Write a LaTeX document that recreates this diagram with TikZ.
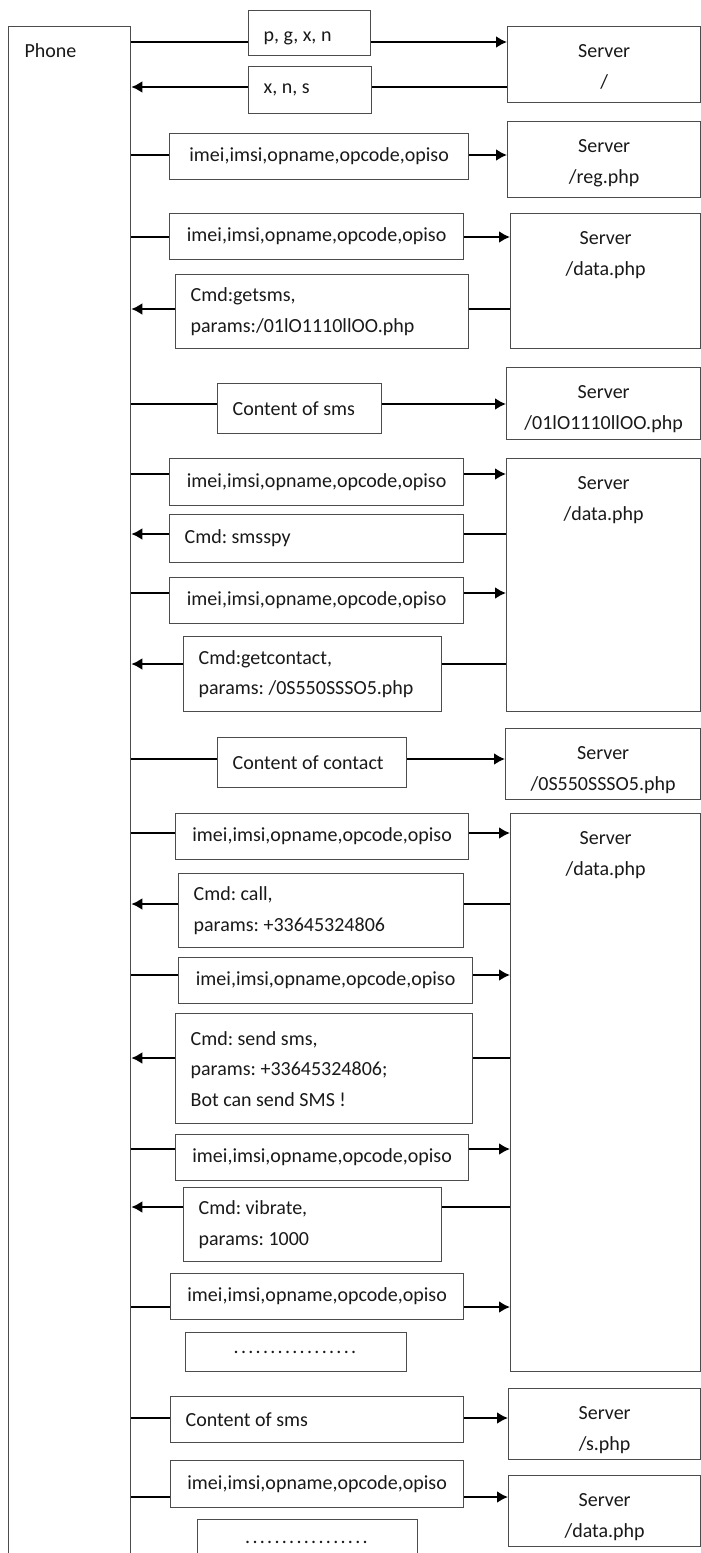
\documentclass[tikz,border=0pt]{standalone}
\usepackage{fontspec}
\setmainfont{Carlito}
\usetikzlibrary{arrows.meta}

\newcommand{\ids}{imei,imsi,opname,opcode,opiso}
\newcommand{\dotrow}{\foreach \d in {1,...,17}{.\kern2.3pt}}

\begin{document}
\begin{tikzpicture}[x=1pt, y=-1pt,
	txt/.style={font=\fontsize{20}{30.5}\selectfont\frenchspacing, text=black!90},
	msg/.style={txt, shape=rectangle, draw=black!70, line width=1.3pt, anchor=north west, align=flush left, inner xsep=15pt, inner ysep=0pt},
	srv/.style={shape=rectangle, draw=black!70, line width=1.3pt, anchor=north west, inner sep=0pt},
	srvlbl/.style={txt, anchor=north, align=center, yshift=-15pt},
	wire/.style={line width=2.6pt},
	arr/.style={-{Latex[length=11pt, width=12pt]}}]
	\useasboundingbox (0,0) rectangle (701,1553);
	% Phone and servers:
	\node[srv, minimum width=122pt, minimum height=1580pt, label={[txt, anchor=north west, xshift=13pt, yshift=-14pt]north west:Phone}] (phone) at (8,26) {};
	\node[srv, minimum width=193pt, minimum height=76pt, label={[srvlbl]north:Server\\/}] (s0) at (507,26) {};
	\node[srv, minimum width=193pt, minimum height=76pt, label={[srvlbl]north:Server\\/reg.php}] (sReg) at (507,121) {};
	\node[srv, minimum width=190pt, minimum height=135pt, label={[srvlbl]north:Server\\/data.php}] (sData1) at (510,213) {};
	\node[srv, minimum width=194pt, minimum height=72pt, label={[srvlbl]north:Server\\/01lO1110llOO.php}] (sGet) at (506,367) {};
	\node[srv, minimum width=194pt, minimum height=253pt, label={[srvlbl]north:Server\\/data.php}] (sData2) at (506,458) {};
	\node[srv, minimum width=195pt, minimum height=71pt, label={[srvlbl]north:Server\\/0S550SSSO5.php}] (sCont) at (505,728) {};
	\node[srv, minimum width=190pt, minimum height=558pt, label={[srvlbl]north:Server\\/data.php}] (sData3) at (510,813) {};
	\node[srv, minimum width=192pt, minimum height=71pt, label={[srvlbl]north:Server\\/s.php}] (sS) at (508,1388) {};
	\node[srv, minimum width=192pt, minimum height=71pt, label={[srvlbl]north:Server\\/data.php}] (sData4) at (508,1475) {};

	% Messages:
	\node[msg, text width=92pt, minimum height=45pt, text height=20pt] (m1) at (248,10) {p, g, x, n};
	\node[msg, text width=93pt, minimum height=47pt] (m2) at (248,66) {x, n, s};
	\node[msg, minimum width=299pt, minimum height=46pt] (m3) at (169,133) {\ids};
	\node[msg, minimum width=294pt, minimum height=46pt] (m4) at (169,213) {\ids};
	\node[msg, text width=263pt, minimum height=74pt] (m5) at (175,274) {Cmd:getsms,\\params:/01lO1110llOO.php};
	\node[msg, text width=134pt, minimum height=50pt] (m6) at (217,383) {Content of sms};
	\node[msg, minimum width=294pt, minimum height=47pt] (m7) at (169,458) {\ids};
	\node[msg, text width=264pt, minimum height=48pt] (m8) at (169,514) {Cmd: smsspy};
	\node[msg, minimum width=294pt, minimum height=46pt] (m9) at (169,577) {\ids};
	\node[msg, text width=228pt, minimum height=75pt] (m10) at (183,636) {Cmd:getcontact,\\params: /0S550SSSO5.php};
	\node[msg, text width=159pt, minimum height=50pt] (m11) at (217,737) {Content of contact};
	\node[msg, minimum width=293pt, minimum height=46pt] (m12) at (175,813) {\ids};
	\node[msg, text width=255pt, minimum height=74pt] (m13) at (178,873) {Cmd: call,\\params: +33645324806};
	\node[msg, minimum width=294pt, minimum height=46pt] (m14) at (178,957) {\ids};
	\node[msg, text width=267pt, minimum height=110pt] (m15) at (175,1013) {Cmd: send sms,\\params: +33645324806;\\Bot can send SMS !};
	\node[msg, minimum width=293pt, minimum height=46pt] (m16) at (175,1134) {\ids};
	\node[msg, text width=228pt, minimum height=74pt] (m17) at (183,1187) {Cmd: vibrate,\\params: 1000};
	\node[msg, minimum width=293pt, minimum height=46pt] (m18) at (170,1273) {\ids};
	\node[msg, minimum width=221pt, minimum height=39pt] (m19) at (185,1332) {\dotrow};
	\node[msg, text width=263pt, minimum height=46pt] (m20) at (170,1396) {Content of sms};
	\node[msg, minimum width=293pt, minimum height=47pt] (m21) at (170,1460) {\ids};
	\node[msg, minimum width=220pt, minimum height=46pt] (m22) at (197,1519) {\dotrow};

	% Wires:
	\draw[wire] (phone.east |- 0,42) -- (m1.west |- 0,42);
	\draw[wire, arr] (m1.east |- 0,42) -- (s0.west |- 0,42);
	\draw[wire] (s0.west |- 0,87) -- (m2.east |- 0,87);
	\draw[wire, arr] (m2.west |- 0,87) -- (phone.east |- 0,87);
	\draw[wire] (phone.east |- 0,155) -- (m3.west |- 0,155);
	\draw[wire, arr] (m3.east |- 0,155) -- (sReg.west |- 0,155);
	\draw[wire] (phone.east |- 0,237) -- (m4.west |- 0,237);
	\draw[wire, arr] (m4.east |- 0,237) -- (sData1.west |- 0,237);
	\draw[wire] (sData1.west |- 0,309) -- (m5.east |- 0,309);
	\draw[wire, arr] (m5.west |- 0,309) -- (phone.east |- 0,309);
	\draw[wire] (phone.east |- 0,404) -- (m6.west |- 0,404);
	\draw[wire, arr] (m6.east |- 0,404) -- (sGet.west |- 0,404);
	\draw[wire] (phone.east |- 0,474) -- (m7.west |- 0,474);
	\draw[wire, arr] (m7.east |- 0,474) -- (sData2.west |- 0,474);
	\draw[wire] (sData2.west |- 0,534) -- (m8.east |- 0,534);
	\draw[wire, arr] (m8.west |- 0,534) -- (phone.east |- 0,534);
	\draw[wire] (phone.east |- 0,593) -- (m9.west |- 0,593);
	\draw[wire, arr] (m9.east |- 0,593) -- (sData2.west |- 0,593);
	\draw[wire] (sData2.west |- 0,664) -- (m10.east |- 0,664);
	\draw[wire, arr] (m10.west |- 0,664) -- (phone.east |- 0,664);
	\draw[wire] (phone.east |- 0,759) -- (m11.west |- 0,759);
	\draw[wire, arr] (m11.east |- 0,759) -- (sCont.west |- 0,759);
	\draw[wire] (phone.east |- 0,833) -- (m12.west |- 0,833);
	\draw[wire, arr] (m12.east |- 0,833) -- (sData3.west |- 0,833);
	\draw[wire] (sData3.west |- 0,904) -- (m13.east |- 0,904);
	\draw[wire, arr] (m13.west |- 0,904) -- (phone.east |- 0,904);
	\draw[wire] (phone.east |- 0,975) -- (m14.west |- 0,975);
	\draw[wire, arr] (m14.east |- 0,975) -- (sData3.west |- 0,975);
	\draw[wire] (sData3.west |- 0,1058) -- (m15.east |- 0,1058);
	\draw[wire, arr] (m15.west |- 0,1058) -- (phone.east |- 0,1058);
	\draw[wire] (phone.east |- 0,1149) -- (m16.west |- 0,1149);
	\draw[wire, arr] (m16.east |- 0,1149) -- (sData3.west |- 0,1149);
	\draw[wire] (sData3.west |- 0,1207) -- (m17.east |- 0,1207);
	\draw[wire, arr] (m17.west |- 0,1207) -- (phone.east |- 0,1207);
	\draw[wire] (phone.east |- 0,1307) -- (m18.west |- 0,1307);
	\draw[wire, arr] (m18.east |- 0,1307) -- (sData3.west |- 0,1307);
	\draw[wire] (phone.east |- 0,1418) -- (m20.west |- 0,1418);
	\draw[wire, arr] (m20.east |- 0,1418) -- (sS.west |- 0,1418);
	\draw[wire] (phone.east |- 0,1497) -- (m21.west |- 0,1497);
	\draw[wire, arr] (m21.east |- 0,1497) -- (sData4.west |- 0,1497);
\end{tikzpicture}
\end{document}
